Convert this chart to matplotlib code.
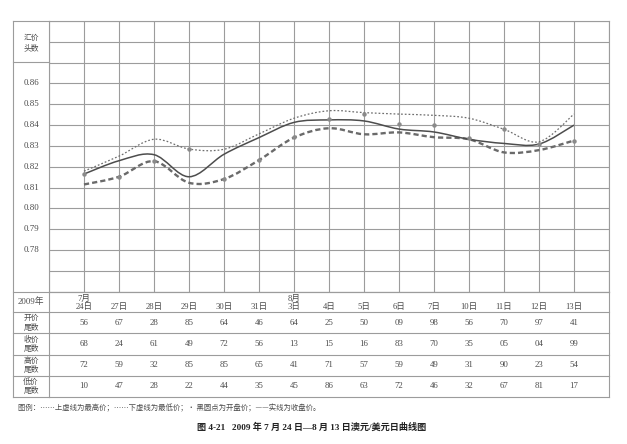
import numpy as np
import matplotlib.pyplot as plt
from matplotlib.path import Path
from matplotlib.patches import PathPatch
from matplotlib.transforms import blended_transform_factory

# dates along the bottom
dates = ['7月\n24日', '27日', '28日', '29日', '30日', '31日', '8月\n3日', '4日',
         '5日', '6日', '7日', '10日', '11日', '12日', '13日']
high = [0.8179, 0.8251, 0.8332, 0.8285, 0.8284, 0.8358, 0.8433, 0.8469,
        0.8460, 0.8453, 0.8447, 0.8433, 0.8380, 0.8320, 0.8453]
close = [0.8165, 0.8229, 0.8258, 0.8152, 0.8260, 0.8340, 0.8413, 0.8425,
         0.8420, 0.8381, 0.8367, 0.8332, 0.8312, 0.8309, 0.8400]
low = [0.8115, 0.8152, 0.8227, 0.8123, 0.8141, 0.8232, 0.8340, 0.8385,
       0.8356, 0.8365, 0.8342, 0.8332, 0.8269, 0.8280, 0.8326]
opens = [0.8165, 0.8152, 0.8227, 0.8285, 0.8141, 0.8232, 0.8344, 0.8430,
         0.8453, 0.8404, 0.8400, 0.8340, 0.8380, 0.8309, 0.8326]

# table rows (last two digits)
open_tail = ['56', '67', '28', '85', '64', '46', '64', '25', '50', '09', '98', '56', '70', '97', '41']
close_tail = ['68', '24', '61', '49', '72', '56', '13', '15', '16', '83', '70', '35', '05', '04', '99']
high_tail = ['72', '59', '32', '85', '85', '65', '41', '71', '57', '59', '49', '31', '90', '23', '54']
low_tail = ['10', '47', '28', '22', '44', '35', '45', '86', '63', '72', '46', '32', '67', '81', '17']
row_names = ['开价\n尾数', '收价\n尾数', '高价\n尾数', '低价\n尾数']
ytick_vals = [0.78, 0.79, 0.80, 0.81, 0.82, 0.83, 0.84, 0.85, 0.86]

legend_txt = '图例：……上虚线为最高价；……下虚线为最低价；• 黑圆点为开盘价；——实线为收盘价。'
caption = '图 4-21   2009 年 7 月 24 日—8 月 13 日澳元/美元日曲线图'

SERIF = ['Liberation Serif', 'Noto Sans CJK SC']
CJK = ['Noto Sans CJK SC', 'DejaVu Sans']
GRID = '#9c9c9c'
TXT = '#4a4a4a'


def smooth_path(xs, ys):
    # excel-like smoothed line: catmull-rom turned into bezier segments
    pts = np.column_stack([xs, ys])
    n = len(pts)
    verts = [pts[0]]
    codes = [Path.MOVETO]
    for i in range(n - 1):
        p0 = pts[max(i - 1, 0)]
        p1 = pts[i]
        p2 = pts[i + 1]
        p3 = pts[min(i + 2, n - 1)]
        verts += [p1 + (p2 - p0) / 6, p2 - (p3 - p1) / 6, p2]
        codes += [Path.CURVE4] * 3
    return Path(verts, codes)


W, H = 627, 444
fig = plt.figure(figsize=(W / 100, H / 100), dpi=100)

# chart area
x0, x1, ytop, ybot = 49, 609, 21, 291.7
ax = fig.add_axes([x0 / W, (H - ybot) / H, (x1 - x0) / W, (ybot - ytop) / H])
ax.set_xlim(0, 16)
ax.set_ylim(0.76, 0.89)
ax.set_xticks(range(17))
ax.set_yticks(np.arange(0.76, 0.8951, 0.01))
ax.grid(True, color=GRID, lw=0.8)
ax.tick_params(length=0, labelbottom=False, labelleft=False)
for s in ax.spines.values():
    s.set_color(GRID)
    s.set_linewidth(0.8)

xs = np.arange(1, len(dates) + 1)
ax.add_patch(PathPatch(smooth_path(xs, high), fill=False, ec='#6e6e6e', lw=0.9,
                       ls=(0, (1.4, 1.6)), zorder=3))
ax.add_patch(PathPatch(smooth_path(xs, low), fill=False, ec='#6a6a6a', lw=1.7,
                       ls=(0, (2.2, 1.3)), zorder=3))
ax.add_patch(PathPatch(smooth_path(xs, close), fill=False, ec='#4d4d4d', lw=1.1, zorder=4))
ax.plot(xs, opens, ls='none', marker='o', ms=2.2, color='#8a8a8a', zorder=5)

# overlay in pixel coords for the label column and table
ov = fig.add_axes([0, 0, 1, 1])
ov.set_xlim(0, W)
ov.set_ylim(H, 0)
ov.axis('off')

row_lines = [291.7, 312.3, 333.3, 354.7, 376, 396.7]
for y in [ytop, 62.3] + row_lines:
    ov.plot([13, x0], [y, y], color=GRID, lw=0.8)
for y in row_lines:
    ov.plot([x0, x1], [y, y], color=GRID, lw=0.8)
ov.plot([13, 13], [ytop, row_lines[-1]], color=GRID, lw=0.8)
ov.plot([x0, x0], [ybot, row_lines[-1]], color=GRID, lw=0.8)
ov.plot([x1, x1], [ybot, row_lines[-1]], color=GRID, lw=0.8)

ov.text(31, 43, '汇价\n头数', ha='center', va='center', fontsize=5.6,
        family=CJK, color=TXT, linespacing=1.3)

ytr = blended_transform_factory(ov.transData, ax.transData)
for v in ytick_vals:
    ov.text(31, v, f'{v:.2f}', transform=ytr, ha='center', va='center',
            fontsize=6.4, family=SERIF, color=TXT)

xtr = blended_transform_factory(ax.transData, ov.transData)
ov.text(31, 302, '2009年', ha='center', va='center', fontsize=6.3, family=SERIF, color=TXT)
for x, d in zip(xs, dates):
    ov.text(x, 310.5, d, transform=xtr, ha='center', va='bottom',
            fontsize=6.2, family=SERIF, color=TXT, linespacing=0.85)

rows = [open_tail, close_tail, high_tail, low_tail]
for r, (name, vals) in enumerate(zip(row_names, rows)):
    yc = (row_lines[r + 1] + row_lines[r + 2]) / 2
    ov.text(31, yc, name, ha='center', va='center', fontsize=5.6, family=CJK,
            color=TXT, linespacing=1.2)
    for x, v in zip(xs, vals):
        ov.text(x, yc, v, transform=xtr, ha='center', va='center',
                fontsize=6.3, family=SERIF, color=TXT)

ov.text(18, 408, legend_txt, ha='left', va='center', fontsize=5.3, family=CJK, color=TXT)
ov.text(312, 427, caption, ha='center', va='center', fontsize=6.6, family=SERIF,
        weight='bold', color='#222222')

fig.savefig('out.png', dpi=100)
